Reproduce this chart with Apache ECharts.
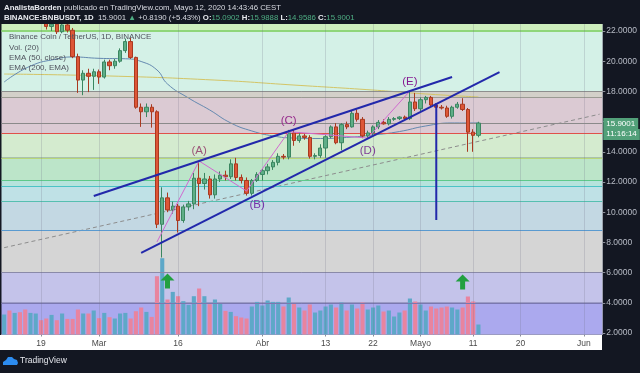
<!DOCTYPE html>
<html>
<head>
<meta charset="utf-8">
<script src="https://cdn.jsdelivr.net/npm/echarts@6/dist/echarts.min.js"></script>
<style>
html,body{margin:0;padding:0;background:#131722;}
#main{width:640px;height:373px;}
</style>
</head>
<body>
<div id="main"></div>
<script>
// daily categories, Feb 12 2020 .. Jun 4 2020 (114 days)
var dates = [];
for (var i = 0; i < 114; i++) {
  var d = new Date(Date.UTC(2020, 1, 12 + i));
  dates.push(String(d.getUTCMonth() + 1).padStart(2, '0') + '-' + String(d.getUTCDate()).padStart(2, '0'));
}

var tickDates = ['02-19', '03-01', '03-16', '04-01', '04-13', '04-22', '05-01', '05-11', '05-20', '06-01'];
var tickTexts = ['19', 'Mar', '16', 'Abr', '13', '22', 'Mayo', '11', '20', 'Jun'];
var priceTicks = [2, 4, 6, 8, 10, 12, 14, 16, 18, 20, 22];

// OHLC, Feb 12 .. May 12
var opens = [23.6,24.4,23.9,25.2,24.5,23.3,23.6,24.3,
  23.1,22.3,22.45,21.95,22.4,22.05,20.3,18.75,19.2,19.0,
  19.3,18.95,19.95,19.7,20.0,20.7,21.3,20.25,16.95,16.65,16.95,16.65,
  9.2,10.95,10.15,10.4,9.45,10.35,10.55,12.25,11.9,12.2,11.15,12.2,12.45,12.35,13.2,12.3,12.1,11.25,12.1,
  12.5,12.75,13.0,13.3,13.7,13.65,15.25,14.75,15.05,14.95,13.7,13.75,14.25,15.0,15.65,14.6,15.8,15.65,16.55,16.15,15.05,15.25,15.65,15.95,15.85,16.15,16.2,16.3,16.2,17.3,
  16.85,17.45,17.6,17.1,16.95,16.9,16.35,16.95,17.15,16.8,15.3,15.09];
var highs = [24.8,25.0,25.6,25.8,24.9,24.0,24.6,24.6,
  23.4,22.9,22.6,22.6,22.7,22.2,20.5,19.4,19.5,19.5,
  19.45,20.1,20.1,20.15,20.85,21.5,21.55,20.3,17.2,17.2,17.15,16.75,
  11.65,11.3,10.7,10.55,10.5,10.75,12.6,13.35,12.6,12.4,12.5,12.7,12.75,13.5,13.6,12.5,12.3,12.2,12.65,
  12.9,13.2,13.45,13.9,13.85,15.45,15.45,15.3,15.2,15.1,13.9,14.5,15.1,15.75,15.9,15.9,16.0,16.7,16.8,16.3,15.4,15.75,16.1,16.15,16.3,16.3,16.35,16.4,18.0,17.9,
  17.6,17.7,17.7,17.2,17.1,17.05,17.05,17.3,17.55,16.9,15.5,15.99];
var lows = [23.3,23.2,23.7,24.2,22.9,22.9,23.1,22.9,
  22.1,22.0,21.8,21.85,21.9,20.2,17.9,17.75,17.95,18.1,
  18.5,18.85,19.4,19.5,19.9,20.55,20.15,16.85,15.65,16.3,15.6,8.95,
  7.0,10.0,9.9,8.65,9.3,10.1,10.2,10.4,11.5,10.9,10.9,12.0,12.1,12.2,12.1,11.9,11.1,11.1,12.0,
  12.1,12.5,12.8,13.1,13.5,13.5,14.4,14.6,14.8,13.55,13.5,13.6,13.6,14.9,14.5,14.1,15.5,15.6,16.0,14.9,14.9,15.1,15.5,15.8,15.75,16.05,16.1,16.1,16.1,16.7,
  16.7,17.2,17.0,16.8,16.8,16.25,16.2,16.85,16.7,14.0,14.0,14.96];
var closes = [24.4,23.9,25.2,24.5,23.3,23.6,24.3,23.1,
  22.3,22.45,21.95,22.4,22.05,20.3,18.75,19.2,19.0,19.3,
  18.95,19.95,19.7,20.0,20.7,21.3,20.25,16.95,16.65,16.95,16.65,9.2,
  10.95,10.15,10.4,9.45,10.35,10.55,12.25,11.9,12.2,11.15,12.2,12.45,12.35,13.2,12.3,12.1,11.25,12.1,12.5,
  12.75,13.0,13.3,13.7,13.65,15.25,14.75,15.05,14.95,13.7,13.75,14.25,15.0,15.65,14.6,15.8,15.65,16.55,16.15,15.05,15.25,15.65,15.95,15.85,16.15,16.2,16.3,16.2,17.3,16.85,
  17.45,17.6,17.1,16.95,16.9,16.35,16.95,17.15,16.8,15.3,15.09,15.9001];
var volumes = [20,24,21.6,22.3,25,21.6,21,14.3,16,19.6,14.3,21,15.6,15.6,25,21,21,24,16.3,21.6,
  17.3,16,21,21.6,16,23.3,27,22.6,17.6,58.3,76.3,35,42.6,38.3,33.3,29.6,38.3,46,38.3,30.3,
  35,31,23.6,22.6,18.3,17,16,28,32.6,29,34,32.6,32.6,28,37,31.6,
  27,24,30,22,24,28,30,27,32,24,30,26,32,25,27,29,23,24,18,22,24,36,33,30,24,28,26,27,28,27,25,27,38,33,10];

// EMA curves
var ema50Dates = ['02-12','02-17','02-22','02-25','03-01','03-06','03-09','03-12','03-14','03-18','03-22','03-26','03-30','04-03','04-07','04-12','04-17','04-22','04-27','05-02','05-07','05-12'];
var ema50Values = [18.62,19.68,20.15,20.28,20.19,20.16,19.98,19.42,18.49,17.56,16.77,15.91,15.38,15.05,14.91,14.88,14.95,15.11,15.34,15.71,15.91,15.91];
var ema200Dates = ['02-12','03-03','03-23','04-07','04-22','05-02','05-12'];
var ema200Values = [19.15,19.02,18.75,18.42,18.09,17.83,17.63];

// fibonacci-like horizontal levels (top to bottom)
var fibEdges = [22.46, 22.0, 18.03, 17.63, 15.25, 13.6, 12.13, 11.69, 10.74, 8.82, 6.04, 4.0, 1.9];
var bandColors = ['#cdeebd','#d4f1e7','#d3d0c9','#dbcad3','#d4ebcf','#bce5c9','#b6e3dc','#bfe1e6','#c3d8e3','#d5d5d5','#c4c3ea','#aba9ee'];
var fibLines = [22.0, 18.03, 17.63, 15.25, 13.6, 12.13, 11.69, 10.74, 8.82, 6.04, 4.0];
var fibLineColors = ['#8fd67a','#8e8e8e','#9a9a92','#e0504a','#b8d679','#5ec98a','#4cc3c6','#56bfb0','#5a9ad0','#8a8aa8','#7a78b0'];

// drawings
var upperWedge = [['02-29', 11.07], ['05-07', 18.95]];
var lowerWedge = [['03-09', 7.30], ['05-16', 19.28]];
var targetLine = [['05-04', 17.23], ['05-04', 9.48]];
var trendDashed = [['02-12', 7.65], ['06-04', 16.49]];
var waveDates = ['03-12', '03-20', '03-29', '04-06', '04-21', '04-29'];
var wavePrices = [8.03, 13.39, 11.4, 15.33, 14.91, 18.03];
var waveLabels = [['03-20', 14.05, '(A)'], ['03-31', 10.48, '(B)'], ['04-06', 16.04, '(C)'], ['04-21', 14.05, '(D)'], ['04-29', 18.62, '(E)']];
var waveLabelColors = ['#9c5478', '#7330ab', '#962a8c', '#7f3e96', '#861c93'];
var arrows = [['03-14', 5.44], ['05-09', 5.38]];
var countdown = '11:16:14';

var myChart = echarts.init(document.getElementById('main'));
var FONT = 'Liberation Sans';

var candleData = opens.map(function (o, i) { return [o, closes[i], lows[i], highs[i]]; });
var volData = volumes.map(function (v, i) {
  return { value: v, itemStyle: { color: closes[i] >= opens[i] ? '#5ea8c8' : '#e8849f' } };
});
var bands = [];
for (var b = 0; b < bandColors.length; b++) {
  bands.push([{ yAxis: fibEdges[b], itemStyle: { color: bandColors[b] } }, { yAxis: fibEdges[b + 1] }]);
}
var fibMarks = fibLines.map(function (v, i) {
  return { yAxis: v, lineStyle: { color: fibLineColors[i], width: i === 0 ? 2 : 1, type: 'solid' } };
});
function pairs(ds, vs) { return ds.map(function (d, i) { return [d, vs[i]]; }); }
function isTick(idx) { return tickDates.indexOf(dates[idx]) >= 0; }

var lineBase = { type: 'line', symbol: 'none', silent: true, animation: false };

var option = {
  backgroundColor: '#131722',
  animation: false,
  grid: [
    { left: 1.5, right: 37.72, top: 24.05, bottom: 38.5 },
    { left: 1.5, right: 37.72, top: 254.5, bottom: 38.5 }
  ],
  xAxis: [
    { type: 'category', data: dates, gridIndex: 0, boundaryGap: true,
      axisLine: { show: false }, axisTick: { show: false }, axisLabel: { show: false }, splitLine: { show: false } },
    { type: 'category', data: dates, gridIndex: 1, boundaryGap: true,
      axisLine: { show: true, lineStyle: { color: '#8a8d96' } },
      axisTick: { show: true, alignWithLabel: true, length: 2, interval: isTick, lineStyle: { color: '#8a8d96' } },
      axisLabel: { interval: isTick, margin: 5, color: '#4a4a4a', fontSize: 8.5, fontFamily: FONT,
        formatter: function (v) { var k = tickDates.indexOf(v); return k >= 0 ? tickTexts[k] : ''; } },
      splitLine: { show: false } }
  ],
  yAxis: [
    { type: 'value', gridIndex: 0, position: 'right', min: 1.9, max: 22.46, scale: true,
      axisLine: { show: true, lineStyle: { color: '#8c9099' } },
      axisTick: { show: true, length: 3, customValues: priceTicks, lineStyle: { color: '#8c9099' } },
      axisLabel: { customValues: priceTicks, margin: 4, color: '#b8bcc6', fontSize: 8.5, fontFamily: FONT,
        formatter: function (v) { return v.toFixed(4); } },
      splitLine: { show: false } },
    { type: 'value', gridIndex: 1, min: 0, max: 80, show: false, splitLine: { show: false } }
  ],
  series: [
    Object.assign({}, lineBase, { name: 'fib', data: [], z: 0,
      markArea: { silent: true, data: bands },
      markLine: { silent: true, symbol: 'none', label: { show: false }, data: fibMarks } }),
    Object.assign({}, lineBase, { name: 'vgrid', data: [], z: 1,
      markLine: { silent: true, symbol: 'none', label: { show: false },
        lineStyle: { color: 'rgba(110,110,130,0.22)', width: 1, type: 'solid' },
        data: tickDates.map(function (d) { return { xAxis: d }; }) } }),
    { type: 'bar', name: 'Vol', xAxisIndex: 1, yAxisIndex: 1, data: volData, barWidth: '78%', z: 2, silent: true },
    Object.assign({}, lineBase, { name: 'EMA200', data: pairs(ema200Dates, ema200Values), smooth: true, z: 3,
      lineStyle: { color: '#d3c566', width: 1 } }),
    Object.assign({}, lineBase, { name: 'EMA50', data: pairs(ema50Dates, ema50Values), smooth: true, z: 3,
      lineStyle: { color: '#6489b0', width: 1 } }),
    Object.assign({}, lineBase, { name: 'trend', data: trendDashed, z: 3,
      lineStyle: { color: '#8d8d8d', width: 1, type: [4, 3] } }),
    { type: 'candlestick', name: 'BNBUSDT', data: candleData, barWidth: '72%', z: 5, silent: true,
      itemStyle: { color: '#5fae87', color0: '#dd5637', borderColor: '#3a8660', borderColor0: '#a93920', borderWidth: 1 },
      markLine: { silent: true, symbol: 'none',
        lineStyle: { color: '#8a8a8a', width: 1, type: 'solid' },
        label: { show: true, position: 'end', distance: 1, offset: [0, 6],
          formatter: function () { return '{p|' + closes[closes.length - 1].toFixed(4) + '}\n{t|' + countdown + '}'; },
          rich: {
            p: { backgroundColor: '#52a079', color: '#ffffff', fontSize: 8, fontFamily: FONT, padding: [2, 3, 1, 3] },
            t: { backgroundColor: '#52a079', color: '#ffffff', fontSize: 8, fontFamily: FONT, padding: [1, 3, 2, 3] }
          } },
        data: [{ yAxis: closes[closes.length - 1] }] } },
    Object.assign({}, lineBase, { name: 'zigzag', data: pairs(waveDates, wavePrices), z: 6,
      lineStyle: { color: '#d06ad0', width: 1 } }),
    Object.assign({}, lineBase, { name: 'upper', data: upperWedge, z: 6, lineStyle: { color: '#2228ab', width: 2 } }),
    Object.assign({}, lineBase, { name: 'lower', data: lowerWedge, z: 6, lineStyle: { color: '#2228ab', width: 2 } }),
    Object.assign({}, lineBase, { name: 'target', data: targetLine, z: 6, lineStyle: { color: '#2228ab', width: 2 } }),
    { type: 'scatter', name: 'arrows', data: arrows, z: 7, silent: true,
      symbol: 'path://M7,0 L14,7 L9.5,7 L9.5,15 L4.5,15 L4.5,7 L0,7 Z', symbolSize: [14, 15],
      itemStyle: { color: '#22a040', opacity: 1 } },
    { type: 'scatter', name: 'waves', z: 7, silent: true, symbolSize: 0,
      itemStyle: { opacity: 1 },
      data: waveLabels.map(function (w, i) {
        return { value: w, label: { color: waveLabelColors[i] } };
      }),
      label: { show: true, position: 'inside', fontSize: 11.5, fontFamily: FONT, opacity: 1,
        formatter: function (p) { return p.data.value[2]; } } }
  ],
  graphic: [
    { type: 'rect', z: -1, shape: { x: 0, y: 335, width: 602, height: 15 }, style: { fill: '#ffffff' } },
    { type: 'rect', z: 100, shape: { x: 0, y: 0, width: 640, height: 24 }, style: { fill: '#131722' } },
    { type: 'rect', z: 100, shape: { x: 0, y: 350, width: 640, height: 23 }, style: { fill: '#131722' } },
    { type: 'text', z: 101, style: { x: 4, y: 7.5, verticalAlign: 'middle', fontFamily: FONT, fontSize: 7.8,
      text: '{b|AnalistaBorden} {n|publicado en TradingView.com, Mayo 12, 2020 14:43:46 CEST}',
      rich: { b: { fontWeight: 'bold', fill: '#e8eaef', fontSize: 7.8, fontFamily: FONT },
              n: { fill: '#d9dbe2', fontSize: 7.8, fontFamily: FONT } } } },
    { type: 'text', z: 101, style: { x: 4, y: 17.5, verticalAlign: 'middle', fontFamily: FONT, fontSize: 7.8,
      text: '{b|BINANCE:BNBUSDT, 1D}  {n|15.9001} {g|▲} {n|+0.8190 (+5.43%)} {b|O:}{g|15.0902} {b|H:}{g|15.9888} {b|L:}{g|14.9586} {b|C:}{g|15.9001}',
      rich: { b: { fontWeight: 'bold', fill: '#e8eaef', fontSize: 7.8, fontFamily: FONT },
              n: { fill: '#d9dbe2', fontSize: 7.8, fontFamily: FONT },
              g: { fill: '#4fae84', fontSize: 7.8, fontFamily: FONT } } } },
    { type: 'text', z: 101, style: { x: 9, y: 36.5, verticalAlign: 'middle', fill: '#50535e', fontSize: 8, fontFamily: FONT, text: 'Binance Coin / TetherUS, 1D, BINANCE' } },
    { type: 'text', z: 101, style: { x: 9, y: 47.3, verticalAlign: 'middle', fill: '#50535e', fontSize: 8, fontFamily: FONT, text: 'Vol. (20)' } },
    { type: 'text', z: 101, style: { x: 9, y: 57.5, verticalAlign: 'middle', fill: '#50535e', fontSize: 8, fontFamily: FONT, text: 'EMA (50, close)' } },
    { type: 'text', z: 101, style: { x: 9, y: 67.8, verticalAlign: 'middle', fill: '#50535e', fontSize: 8, fontFamily: FONT, text: 'EMA (200, EMA)' } },
    { type: 'polygon', z: 101, shape: { points: [[3,365],[3,362],[6,360],[8,357],[12,357],[14,359],[17,360],[18,363],[17,365]] }, style: { fill: '#2c8cf0' } },
    { type: 'text', z: 101, style: { x: 20, y: 361, verticalAlign: 'middle', fill: '#e6e8ee', fontSize: 8.5, fontFamily: FONT, text: 'TradingView' } }
  ]
};
myChart.setOption(option);
</script>
</body>
</html>
